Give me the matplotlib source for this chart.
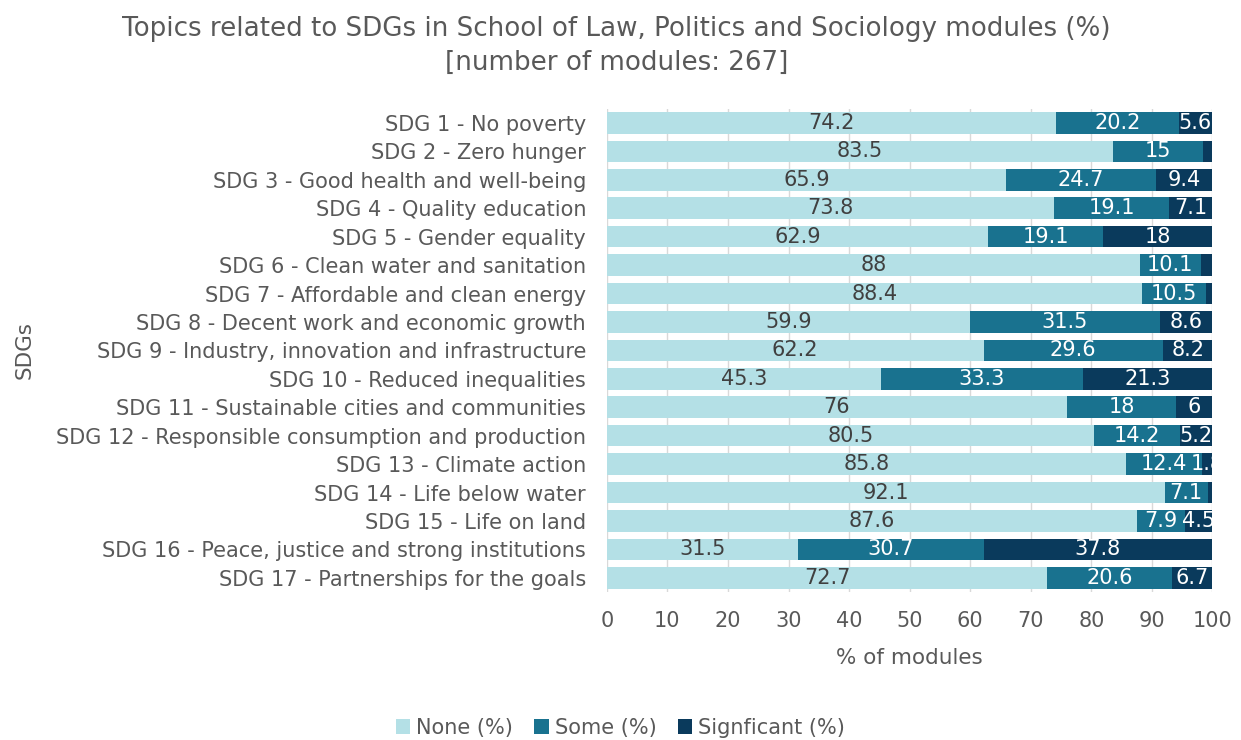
import matplotlib.pyplot as plt
import numpy as np

sdgs = [
    "SDG 1 - No poverty",
    "SDG 2 - Zero hunger",
    "SDG 3 - Good health and well-being",
    "SDG 4 - Quality education",
    "SDG 5 - Gender equality",
    "SDG 6 - Clean water and sanitation",
    "SDG 7 - Affordable and clean energy",
    "SDG 8 - Decent work and economic growth",
    "SDG 9 - Industry, innovation and infrastructure",
    "SDG 10 - Reduced inequalities",
    "SDG 11 - Sustainable cities and communities",
    "SDG 12 - Responsible consumption and production",
    "SDG 13 - Climate action",
    "SDG 14 - Life below water",
    "SDG 15 - Life on land",
    "SDG 16 - Peace, justice and strong institutions",
    "SDG 17 - Partnerships for the goals",
]
none_pct = [74.2, 83.5, 65.9, 73.8, 62.9, 88, 88.4, 59.9, 62.2, 45.3, 76, 80.5, 85.8, 92.1, 87.6, 31.5, 72.7]
some_pct = [20.2, 15, 24.7, 19.1, 19.1, 10.1, 10.5, 31.5, 29.6, 33.3, 18, 14.2, 12.4, 7.1, 7.9, 30.7, 20.6]
sig_pct = [5.6, 1.5, 9.4, 7.1, 18, 1.9, 1.1, 8.6, 8.2, 21.3, 6, 5.2, 1.8, 0.8, 4.5, 37.8, 6.7]
# labels that are not shown in the original chart (too small)
hidden_sig = {"SDG 2 - Zero hunger", "SDG 6 - Clean water and sanitation",
              "SDG 7 - Affordable and clean energy", "SDG 14 - Life below water"}

c_none = "#b4e0e6"
c_some = "#19728f"
c_sig = "#0a3a5c"
grey = "#595959"

fig = plt.figure(figsize=(12.41, 7.4), dpi=100)
ax = fig.add_axes([0.489, 0.200, 0.488, 0.653])

y = np.arange(len(sdgs))
h = 0.76
none_a = np.array(none_pct)
some_a = np.array(some_pct)
sig_a = np.array(sig_pct)

b1 = ax.barh(y, none_a, height=h, color=c_none, label="None (%)", zorder=2)
b2 = ax.barh(y, some_a, left=none_a, height=h, color=c_some, label="Some (%)", zorder=2)
b3 = ax.barh(y, sig_a, left=none_a + some_a, height=h, color=c_sig,
             label="Signficant (%)", zorder=2)

fs = 15
for i in range(len(sdgs)):
    ax.text(none_a[i] / 2, y[i], f"{none_pct[i]:g}", ha="center", va="center",
            color="#404040", fontsize=fs, zorder=3)
    ax.text(none_a[i] + some_a[i] / 2, y[i], f"{some_pct[i]:g}", ha="center",
            va="center", color="white", fontsize=fs, zorder=3)
    if sdgs[i] not in hidden_sig:
        ax.text(none_a[i] + some_a[i] + sig_a[i] / 2, y[i], f"{sig_pct[i]:g}",
                ha="center", va="center", color="white", fontsize=fs, zorder=3,
                clip_on=True)

ax.set_xlim(0, 100)
ax.set_ylim(len(sdgs) - 0.5, -0.5)
ax.set_xticks(range(0, 101, 10))
ax.set_yticks(y)
ax.set_yticklabels(sdgs)
ax.tick_params(axis="both", length=0, labelsize=fs, colors=grey)
ax.tick_params(axis="y", pad=15)
ax.tick_params(axis="x", pad=14)
ax.grid(axis="x", color="#d9d9d9", linewidth=1, zorder=0)
for s in ax.spines.values():
    s.set_visible(False)

ax.set_xlabel("% of modules", fontsize=fs + 0.5, color=grey, labelpad=12)
fig.text(0.02, 0.527, "SDGs", rotation=90, ha="center", va="center",
         fontsize=fs + 0.5, color=grey)

fig.suptitle("Topics related to SDGs in School of Law, Politics and Sociology modules (%)\n"
             "[number of modules: 267]", x=0.497, y=0.978, fontsize=18.8,
             color=grey, linespacing=1.4)

fig.legend(handles=[b1, b2, b3], loc="lower center", bbox_to_anchor=(0.5, -0.022),
           ncol=3, frameon=False, fontsize=fs, handlelength=0.7, handleheight=0.7,
           handletextpad=0.3, columnspacing=1.0, labelcolor=grey)

fig.savefig("out.png", dpi=100)
